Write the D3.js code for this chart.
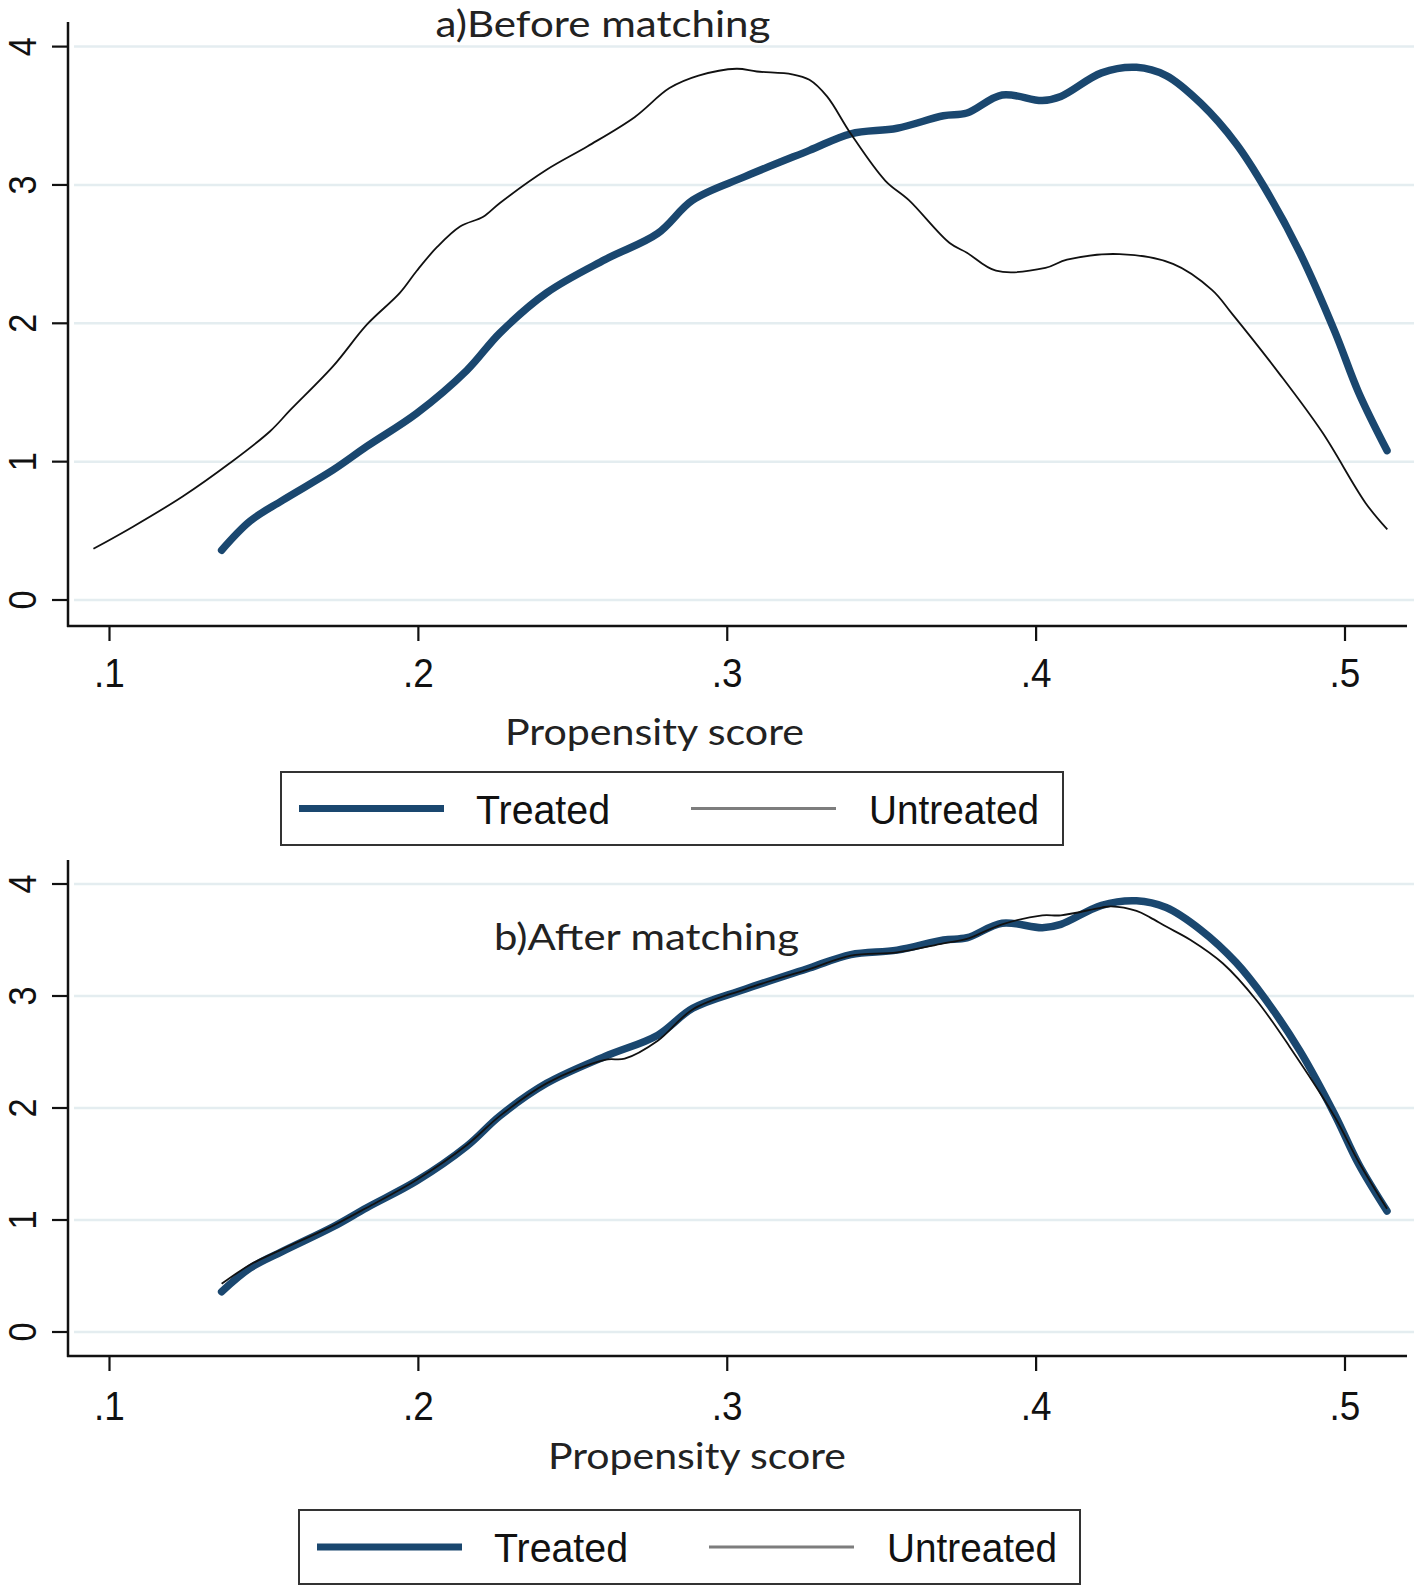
<!DOCTYPE html>
<html><head><meta charset="utf-8">
<script src="https://cdn.jsdelivr.net/npm/d3@7"></script>
<style>body{margin:0;background:#fff}</style>
</head><body>
<svg id="c" width="1416" height="1589"></svg>
<script>
// ---- data ----
const treatedX = [0.1363,0.1455,0.156,0.1724,0.1833,0.1995,0.2157,0.2264,0.2415,0.2604,0.2775,0.2888,0.3057,0.3266,0.340,0.355,0.370,0.3776,0.389,0.402,0.408,0.4212,0.4325,0.4421,0.4533,0.4647,0.474,0.4854,0.4967,0.5044,0.5136];
const treatedY = [0.36,0.57,0.72,0.94,1.11,1.35,1.66,1.93,2.22,2.46,2.65,2.89,3.06,3.25,3.37,3.41,3.50,3.52,3.65,3.61,3.64,3.81,3.85,3.79,3.59,3.30,2.98,2.51,1.94,1.50,1.08];
const untreatedBeforeX = [0.0948,0.1076,0.1238,0.139,0.152,0.1584,0.1724,0.1833,0.194,0.1995,0.206,0.2135,0.221,0.2264,0.2415,0.2548,0.270,0.2813,0.2907,0.303,0.3096,0.321,0.3266,0.3323,0.340,0.3512,0.3588,0.372,0.3776,0.387,0.403,0.41,0.427,0.4443,0.457,0.4634,0.4786,0.4927,0.5067,0.5137];
const untreatedBeforeY = [0.37,0.53,0.75,0.99,1.22,1.37,1.69,1.99,2.22,2.38,2.55,2.70,2.77,2.87,3.11,3.28,3.49,3.70,3.79,3.84,3.82,3.80,3.76,3.64,3.37,3.03,2.89,2.58,2.51,2.38,2.40,2.46,2.50,2.43,2.24,2.07,1.64,1.21,0.70,0.51];
const untreatedAfterX = [0.1363,0.1455,0.156,0.1724,0.1833,0.1995,0.2157,0.2264,0.2415,0.2604,0.2668,0.2775,0.2888,0.3057,0.3266,0.340,0.355,0.370,0.3776,0.389,0.402,0.408,0.4212,0.4243,0.4325,0.437,0.4421,0.450,0.4605,0.4714,0.482,0.4967,0.5044,0.5136];
const untreatedAfterY = [0.43,0.60,0.74,0.95,1.11,1.36,1.67,1.93,2.22,2.43,2.44,2.60,2.88,3.06,3.24,3.36,3.39,3.47,3.51,3.64,3.72,3.72,3.79,3.80,3.76,3.70,3.62,3.50,3.29,2.96,2.55,1.92,1.52,1.10];
const xTicks = [0.1,0.2,0.3,0.4,0.5];
const xTickLabels = [".1",".2",".3",".4",".5"];
const yTicks = [0,1,2,3,4];
const yTickLabels = ["0","1","2","3","4"];
const panelTitles = ["a)Before matching","b)After matching"];
const seriesNames = ["Treated","Untreated"];
const xTitle = "Propensity score";

// ---- layout ----
const BLUE = "#1a476f", GRID = "#e4edf0";
const panels = [
  {title: panelTitles[0], ux: untreatedBeforeX, uy: untreatedBeforeY,
   yBottom: 600, yTop: 46.6, axisTop: 22, axisY: 626, tickLabelY: 687,
   titleX: 603, titleY: 37, titleW: 335, xtX: 654.5, xtY: 745, xtW: 299,
   leg: {x: 281, y: 772, w: 782, h: 73}},
  {title: panelTitles[1], ux: untreatedAfterX, uy: untreatedAfterY,
   yBottom: 1332, yTop: 884, axisTop: 860, axisY: 1356, tickLabelY: 1420,
   titleX: 646.5, titleY: 950, titleW: 305, xtX: 697, xtY: 1469, xtW: 298,
   leg: {x: 299, y: 1510, w: 781, h: 74}}
];

const svg = d3.select("#c");
const x = d3.scaleLinear().domain([0.1, 0.5]).range([109.5, 1345]);
const plotLeft = 68, plotRight = 1407, gridLeft = 74, gridRight = 1414;

panels.forEach(p => {
  const y = d3.scaleLinear().domain([0, 4]).range([p.yBottom, p.yTop]);
  const g = svg.append("g");

  // grid
  g.selectAll("line.grid").data(yTicks).join("line")
    .attr("x1", gridLeft).attr("x2", gridRight)
    .attr("y1", d => y(d)).attr("y2", d => y(d))
    .attr("stroke", GRID).attr("stroke-width", 2.5);

  // axes lines
  g.append("line").attr("x1", plotLeft).attr("x2", plotLeft)
    .attr("y1", p.axisTop).attr("y2", p.axisY + 1)
    .attr("stroke", "#111").attr("stroke-width", 2.5);
  g.append("line").attr("x1", plotLeft - 1).attr("x2", plotRight)
    .attr("y1", p.axisY).attr("y2", p.axisY)
    .attr("stroke", "#111").attr("stroke-width", 2.5);

  // y ticks
  g.selectAll("line.yt").data(yTicks).join("line")
    .attr("x1", plotLeft - 16).attr("x2", plotLeft)
    .attr("y1", d => y(d)).attr("y2", d => y(d))
    .attr("stroke", "#111").attr("stroke-width", 2.2);
  g.selectAll("text.yl").data(yTicks).join("text")
    .attr("transform", d => `translate(35.5,${y(d)}) rotate(-90) scale(0.88,1)`)
    .attr("text-anchor", "middle")
    .attr("font-family", "Liberation Sans, Arial, sans-serif")
    .attr("font-size", 39).attr("fill", "#111")
    .text((d, i) => yTickLabels[i]);

  // x ticks
  g.selectAll("line.xt").data(xTicks).join("line")
    .attr("x1", d => x(d)).attr("x2", d => x(d))
    .attr("y1", p.axisY).attr("y2", p.axisY + 15)
    .attr("stroke", "#111").attr("stroke-width", 2.2);
  g.selectAll("text.xl").data(xTicks).join("text")
    .attr("transform", d => `translate(${x(d)},${p.tickLabelY}) scale(0.9,1)`)
    .attr("text-anchor", "middle")
    .attr("font-family", "Liberation Sans, Arial, sans-serif")
    .attr("font-size", 41).attr("fill", "#111")
    .text((d, i) => xTickLabels[i]);

  // curves
  const line = d3.line().curve(d3.curveCatmullRom.alpha(0.5))
    .x(d => x(d[0])).y(d => y(d[1]));
  g.append("path").datum(d3.zip(treatedX, treatedY))
    .attr("d", line).attr("fill", "none").attr("stroke", BLUE)
    .attr("stroke-width", 7.5).attr("stroke-linecap", "round").attr("stroke-linejoin", "round");
  g.append("path").datum(d3.zip(p.ux, p.uy))
    .attr("d", line).attr("fill", "none").attr("stroke", "#111")
    .attr("stroke-width", 1.8).attr("stroke-linejoin", "round");

  // titles
  g.append("text").attr("x", p.titleX).attr("y", p.titleY)
    .attr("text-anchor", "middle").attr("font-family", "Lato, sans-serif")
    .attr("font-size", 37).attr("fill", "#222")
    .attr("textLength", p.titleW).attr("lengthAdjust", "spacingAndGlyphs")
    .text(p.title);
  g.append("text").attr("x", p.xtX).attr("y", p.xtY)
    .attr("text-anchor", "middle").attr("font-family", "Lato, sans-serif")
    .attr("font-size", 37).attr("fill", "#222")
    .attr("textLength", p.xtW).attr("lengthAdjust", "spacingAndGlyphs")
    .text(xTitle);

  // legend
  const L = p.leg;
  const lg = svg.append("g").attr("transform", `translate(${L.x},${L.y})`);
  lg.append("rect").attr("x", 0).attr("y", 0).attr("width", L.w).attr("height", L.h)
    .attr("fill", "#fff").attr("stroke", "#333").attr("stroke-width", 2);
  const cy = L.h / 2;
  const items = [
    {name: seriesNames[0], lx: 18, color: BLUE, w: 7, tx: 195, tw: 134},
    {name: seriesNames[1], lx: 410, color: "#7d7d7d", w: 3, tx: 588, tw: 170}
  ];
  items.forEach(it => {
    lg.append("line").attr("x1", it.lx).attr("x2", it.lx + 145)
      .attr("y1", cy).attr("y2", cy)
      .attr("stroke", it.color).attr("stroke-width", it.w);
    lg.append("text").attr("x", it.tx).attr("y", cy + 15)
      .attr("font-family", "Liberation Sans, Arial, sans-serif")
      .attr("font-size", 41).attr("fill", "#111")
      .attr("textLength", it.tw).attr("lengthAdjust", "spacingAndGlyphs")
      .text(it.name);
  });
});
</script>
</body></html>
